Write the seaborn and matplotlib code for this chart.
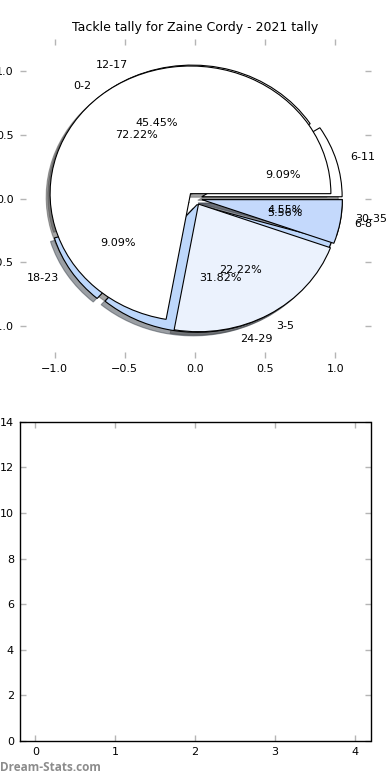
import matplotlib
matplotlib.use("Agg")
import matplotlib.pyplot as plt
import seaborn as sns

# tackle tally data, two pies drawn on the same axes
labels_a = ['6-11', '12-17', '18-23', '24-29', '30-35']
values_a = [2, 10, 2, 7, 1]
colors_a = ['white', 'white', '#bdd7fb', '#bdd7fb', '#c4d9fc']

labels_b = ['0-2', '3-5', '6-8']
values_b = [13, 4, 1]
colors_b = ['white', '#ebf2fd', '#c4d9fc']

bar_x = [0, 1, 2, 3, 4]
y_ticks = [0, 2, 4, 6, 8, 10, 12, 14]

sns.set_style("white", rc={'text.color': 'black', 'axes.labelcolor': 'black',
                           'xtick.color': 'black', 'ytick.color': 'black'})
plt.rcParams['font.family'] = ['DejaVu Sans']

fig, (ax1, ax2) = plt.subplots(2, 1, figsize=(3.9, 7.8), dpi=100)
fig.subplots_adjust(left=0.05, right=0.95, bottom=0.05, top=0.95, hspace=0.2)

wp = dict(edgecolor='black', linewidth=0.8)
tp = dict(fontsize=8, color='black')
ax1.pie(values_a, labels=labels_a, colors=colors_a, explode=[0.05] * len(values_a),
        autopct='%1.2f%%', shadow=True, wedgeprops=wp, textprops=tp, frame=True)
ax1.pie(values_b, labels=labels_b, colors=colors_b, explode=[0.05] * len(values_b),
        autopct='%1.2f%%', shadow=True, wedgeprops=wp, textprops=tp, frame=True)
ax1.set_aspect('auto')
ax1.set_xlim(-1.25, 1.25)
ax1.set_ylim(-1.25, 1.25)
ax1.set_xticks([-1.0, -0.5, 0.0, 0.5, 1.0])
ax1.set_yticks([-1.0, -0.5, 0.0, 0.5, 1.0])
ax1.set_frame_on(False)
ax1.set_title('Tackle tally for Zaine Cordy - 2021 tally', fontsize=9, color='black')

# empty bar axes below
sns.barplot(x=[], y=[], ax=ax2)
ax2.set_xlim(-0.2, 4.2)
ax2.set_ylim(0, 14)
ax2.set_xticks(bar_x)
ax2.set_xticklabels([str(v) for v in bar_x])
ax2.set_yticks(y_ticks)
for s in ax2.spines.values():
    s.set_visible(True)
    s.set_color('black')
    s.set_linewidth(1.0)

for ax in (ax1, ax2):
    ax.tick_params(axis='both', which='both', direction='in', length=4, width=1,
                   color='#b5b5b5', labelsize=8, labelcolor='black',
                   top=True, right=True, bottom=True, left=True, pad=4)

fig.text(0.0, 0.008, 'Dream-Stats.com', fontsize=8.5, color='#8c8c8c',
         fontweight='bold', family=['Open Sans', 'DejaVu Sans'], ha='left', va='bottom')

fig.savefig('out.png', dpi=100)
